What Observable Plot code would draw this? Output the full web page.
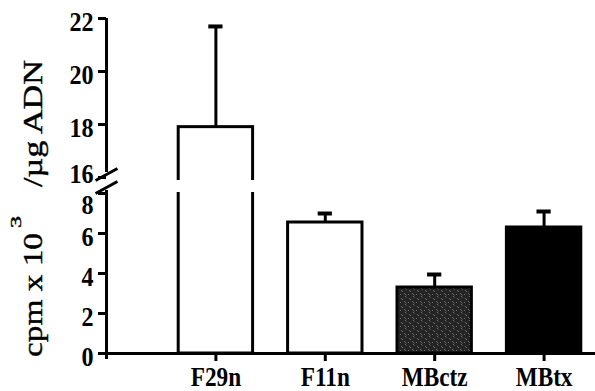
<!DOCTYPE html>
<html><head><meta charset="utf-8">
<script src="https://cdn.jsdelivr.net/npm/d3@7"></script>
<script src="https://cdn.jsdelivr.net/npm/@observablehq/plot@0.6"></script>
<style>
body{margin:0;background:#fff;}
#chart{position:relative;width:595px;height:391px;overflow:hidden;}
</style></head><body><div id="chart"></div>
<script>
// ---- data ----
const categories = ["F29n", "F11n", "MBctz", "MBtx"];
const values = [17.9, 6.55, 3.3, 6.3];
const errors = [3.8, 0.45, 0.65, 0.8];
const yTicks = [0, 2, 4, 6, 8, 16, 18, 20, 22];
const fills = ["white", "white", "url(#speckle)", "black"];
const titleParts = ["cpm x 10", "3", "/µg ADN"];

// ---- broken axis: value -> virtual linear coordinate ----
const brk = d3.scaleLinear().domain([0, 8, 16, 22]).range([0, 8, 8.8, 16.75]);
const uMax = brk(22);
const xMax = 4.47;
const half = 0.34, capHalf = 0.065;
const gapU = [8.05, 8.65];           // virtual band where bar sides are interrupted
const axisSegments = [{y1: -0.3, y2: 8.15}, {y1: 9.05, y2: uMax}];
const slashCentersU = [8.95, 8.3];
const slashes = slashCentersU.map(c => ({x1: -0.1, x2: 0.1, y1: c - 0.3, y2: c + 0.3}));
const labelNudge = {"16": -7, "8": 8};

const data = categories.map((c, i) => ({cat: c, pos: i + 1, top: brk(values[i]), hi: brk(values[i] + errors[i])}));
const tickLabel = new Map(yTicks.map(t => [brk(t), t]));

const svg = Plot.plot({
  width: 595, height: 391,
  marginLeft: 106, marginRight: 0, marginTop: 18, marginBottom: 38,
  style: "font-family: 'Liberation Serif', 'Times New Roman', serif; font-weight: bold; background: white;",
  x: {domain: [0, xMax]},
  y: {domain: [0, uMax]},
  color: {type: "ordinal", domain: categories, range: fills},
  marks: [
    Plot.rect(data, {x1: d => d.pos - half, x2: d => d.pos + half, y1: 0, y2: "top", fill: "cat", stroke: "black", strokeWidth: 3}),
    Plot.rect(data.filter(d => d.top > gapU[1]), {x1: d => d.pos - half - 0.03, x2: d => d.pos + half + 0.03, y1: gapU[0], y2: gapU[1], fill: "white"}),
    Plot.ruleX(data, {x: "pos", y1: "top", y2: "hi", strokeWidth: 3}),
    Plot.ruleY(data, {y: "hi", x1: d => d.pos - capHalf, x2: d => d.pos + capHalf, strokeWidth: 4}),
    Plot.ruleY([0], {x1: -0.03, x2: xMax, strokeWidth: 3}),
    Plot.ruleX(axisSegments, {x: 0, y1: "y1", y2: "y2", strokeWidth: 3}),
    Plot.link(slashes, {x1: "x1", y1: "y1", x2: "x2", y2: "y2", strokeWidth: 3}),
    Plot.axisY({ticks: yTicks.map(t => brk(t)), tickFormat: u => tickLabel.get(u), tickSize: 8, tickPadding: 5, fontSize: 28, strokeWidth: 3, label: null}),
    Plot.axisX({ticks: [1, 2, 3, 4], tickFormat: i => categories[i - 1], tickSize: 8, tickPadding: 5, fontSize: 27, strokeWidth: 3, label: null})
  ]
});

const chart = document.getElementById("chart");
chart.append(svg);
const s = d3.select(svg);
s.insert("defs", ":first-child").html(
  '<pattern id="speckle" width="8" height="8" patternUnits="userSpaceOnUse">' +
  '<rect width="8" height="8" fill="#242424"/>' +
  '<path d="M1,2 l2,2 M5,0 l1.5,1.5 M4,5 l2.5,2.5 M0,6 l1,1" stroke="#8c8c8c" stroke-width="0.7"/>' +
  '</pattern>');

s.selectAll('g[aria-label="y-axis tick label"] text, g[aria-label="x-axis tick label"] text').each(function() {
  const w = this.getComputedTextLength();
  this.setAttribute("textLength", w * 0.86);
  this.setAttribute("lengthAdjust", "spacingAndGlyphs");
});
const yl = s.select('g[aria-label="y-axis tick label"]');
yl.attr("transform", (yl.attr("transform") || "") + " translate(0,4)");
yl.selectAll("text").each(function() {
  const n = labelNudge[this.textContent];
  if (n) this.setAttribute("transform", (this.getAttribute("transform") || "") + ` translate(0,${n})`);
});

// rotated y title with superscript
const titleSpec = [
  {text: titleParts[0], y: 357, len: 124, size: 27, x: 42},
  {text: titleParts[1], y: 228, len: 12, size: 15, x: 21},
  {text: titleParts[2], y: 187, len: 127, size: 27, x: 42}
];
titleSpec.forEach(t => {
  s.append("text")
    .attr("transform", `translate(${t.x},${t.y}) rotate(-90)`)
    .attr("text-anchor", "start")
    .attr("textLength", t.len)
    .attr("lengthAdjust", "spacingAndGlyphs")
    .style("font-family", "'Liberation Serif', serif")
    .style("font-weight", "normal")
    .style("font-size", t.size + "px")
    .style("stroke", "black")
    .style("stroke-width", "0.4px")
    .text(t.text);
});
</script></body></html>
